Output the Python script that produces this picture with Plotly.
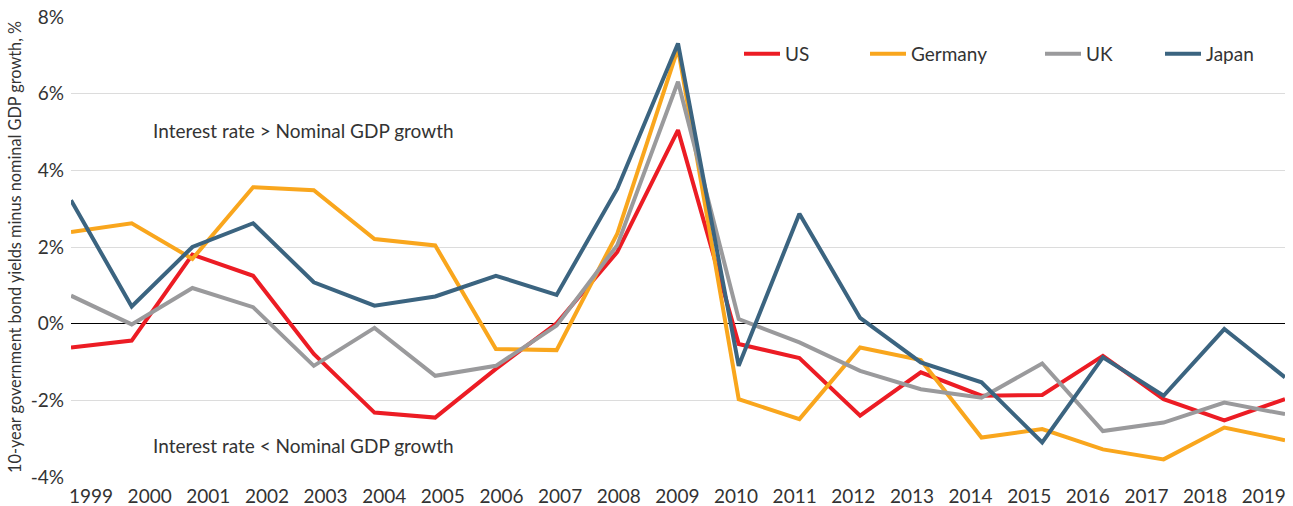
import plotly.graph_objects as go

years = list(range(1999, 2020))
year_labels = [str(y) for y in years]

us = [-0.62, -0.44, 1.80, 1.25, -0.79, -2.32, -2.45, -1.18, 0.01, 1.87, 5.05,
      -0.53, -0.90, -2.40, -1.27, -1.88, -1.86, -0.84, -1.97, -2.52, -1.97]
germany = [2.39, 2.62, 1.69, 3.56, 3.48, 2.21, 2.04, -0.66, -0.69, 2.35, 7.18,
           -1.97, -2.49, -0.62, -0.95, -2.97, -2.75, -3.28, -3.54, -2.71, -3.04]
uk = [0.73, -0.02, 0.93, 0.43, -1.10, -0.11, -1.36, -1.10, -0.05, 2.05, 6.31,
      0.12, -0.49, -1.23, -1.71, -1.93, -1.04, -2.80, -2.58, -2.06, -2.36]
japan = [3.22, 0.45, 2.00, 2.62, 1.08, 0.47, 0.71, 1.25, 0.75, 3.52, 7.31,
         -1.10, 2.87, 0.15, -1.01, -1.53, -3.10, -0.88, -1.88, -0.14, -1.40]

y_tickvals = [-4, -2, 0, 2, 4, 6, 8]
y_ticktext = ["-4%", "-2%", "0%", "2%", "4%", "6%", "8%"]

series = [
    ("US", us, "#EC1C24", "legend"),
    ("Germany", germany, "#F9A61D", "legend2"),
    ("UK", uk, "#9A9A9C", "legend3"),
    ("Japan", japan, "#3B6480", "legend4"),
]

FONT = "Lato"
TXT = "#333333"

# page body margin is removed (post_script), so the figure fills the window
W, H = 1293, 506
L, T = 71, 17
R = W - 1285
B = H - 477
PW = W - L - R
PH = H - T - B

fig = go.Figure()
for name, vals, color, leg in series:
    fig.add_trace(go.Scatter(
        x=years, y=vals, name=name, mode="lines",
        line=dict(color=color, width=4), legend=leg,
    ))

# label positions slightly offset from data points, as in the original
LABEL_SHIFT = 0.33
LABEL_STEP = 0.966
x_tickvals = [years[0] + LABEL_SHIFT + LABEL_STEP * i for i in range(len(years))]

fig.update_layout(
    width=W, height=H,
    margin=dict(l=L, r=R, t=T, b=B, pad=0),
    plot_bgcolor="white", paper_bgcolor="white",
    font=dict(family=FONT, size=19, color=TXT),
    showlegend=True,
    xaxis=dict(
        range=[years[0], years[-1]], showgrid=False, zeroline=False,
        tickvals=x_tickvals, ticktext=year_labels, ticks="",
        tickfont=dict(size=19, color=TXT), showline=False,
        ticklabelstandoff=6, automargin=False, ticklabeloverflow="allow",
    ),
    yaxis=dict(
        range=[-4, 8], tickvals=y_tickvals, ticktext=y_ticktext,
        showgrid=True, gridcolor="#DCDCDC", gridwidth=1,
        zeroline=True, zerolinecolor="black", zerolinewidth=1,
        ticks="", tickfont=dict(size=19, color=TXT),
        ticklabelstandoff=6, automargin=False, ticklabeloverflow="allow",
    ),
)

legend_x_px = [739, 865, 1040, 1160]
for (name, vals, color, leg), px in zip(series, legend_x_px):
    fig.layout[leg] = dict(
        x=(px - L) / PW, y=(477 - 54) / PH, xanchor="left", yanchor="middle",
        orientation="h", bgcolor="rgba(0,0,0,0)", borderwidth=0,
        itemwidth=36,
        font=dict(family=FONT, size=19, color=TXT),
    )

fig.add_annotation(
    x=2000.32, y=5.05, xref="x", yref="y", xanchor="left", yanchor="middle",
    text="Interest rate > Nominal GDP growth", showarrow=False,
    font=dict(family=FONT, size=19, color=TXT),
)
fig.add_annotation(
    x=2000.32, y=-3.19, xref="x", yref="y", xanchor="left", yanchor="middle",
    text="Interest rate < Nominal GDP growth", showarrow=False,
    font=dict(family=FONT, size=19, color=TXT),
)
fig.add_annotation(
    x=(14 - L) / PW, y=0.5, xref="paper", yref="paper",
    xanchor="center", yanchor="middle", textangle=-90,
    text="10-year government bond yields minus nominal GDP growth, %",
    showarrow=False, font=dict(family=FONT, size=16.3, color=TXT),
)

fig.write_html(
    "out.html",
    config={"displayModeBar": False},
    post_script="document.body.style.margin='0';",
)
